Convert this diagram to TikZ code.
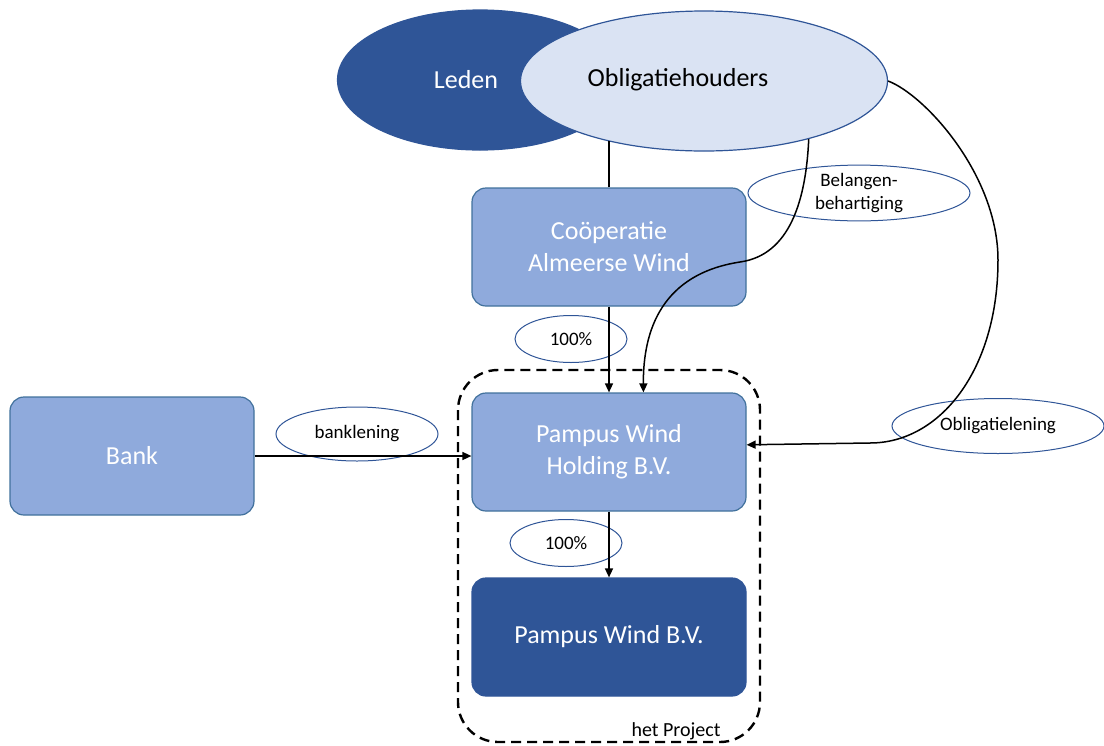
\documentclass[tikz,border=0pt]{standalone}
\usepackage{fontspec}
\setmainfont{Carlito}
\usetikzlibrary{arrows.meta, shapes.geometric}
\definecolor{donker}{HTML}{2F5597}
\definecolor{midden}{HTML}{8FAADC}
\definecolor{licht}{HTML}{DAE3F3}
\definecolor{rand}{HTML}{41719C}

\begin{document}
\begin{tikzpicture}[
  x=0.5pt, y=-0.5pt, font=\fontsize{13}{16}\selectfont,
  >={Triangle[length=4.5pt, width=4pt]},
  box/.style={draw=rand, line width=0.6pt, rounded corners=7pt, fill=midden,
              text=white, align=center, minimum width=137pt, minimum height=59pt},
  groep/.style={ellipse, draw=donker, line width=0.6pt, inner sep=0pt,
                minimum height=70pt},
  lbl/.style={ellipse, draw=donker, line width=0.5pt, inner sep=0pt,
              align=center, font=\fontsize{9.5}{11.5}\selectfont},
  ar/.style={->, line width=0.75pt, black},
  project/.style={draw, line width=1.2pt, dash pattern=on 5pt off 3pt,
                  rounded corners=20pt},
]
\useasboundingbox (0,0) rectangle (1104,745);

% leden en obligatiehouders
\node[groep, fill=donker, minimum width=142.5pt] (leden) at (480,80) {};
\node[groep, fill=licht, minimum width=183.5pt] (oblig) at (704,81) {};
\node[text=white] (ledentxt) at (466,80) {Leden};
\node (obligtxt) at (678,80) {Obligatiehouders};

% entiteiten
\node[box] (coop) at (609,247) {Coöperatie\\Almeerse Wind};
\node[box] (holding) at (609,452) {Pampus Wind\\Holding B.V.};
\node[box, fill=donker, draw=donker] (bv) at (609,637) {Pampus Wind B.V.};
\node[box, minimum width=122pt] (bank) at (132,456) {Bank};

% het project
\draw[project] (458,370) rectangle (760,742);
\node[font=\fontsize{10}{12}\selectfont] (projtxt) at (676,731) {het Project};

% labels
\node[lbl, minimum width=56pt, minimum height=23.5pt] (pct1) at (571,339) {100\%};
\node[lbl, minimum width=56pt, minimum height=23.5pt] (pct2) at (566,543) {100\%};
\node[lbl, minimum width=81pt, minimum height=27pt] (bankl) at (357,434) {banklening};
\node[lbl, minimum width=111pt, minimum height=27.5pt] (belang) at (859,193) {Belangen-\\behartiging};
\node[lbl, minimum width=106pt, minimum height=27.5pt] (obll) at (998,426) {Obligatielening};

% verbindingen
\draw[line width=0.75pt] (coop.north) -- (coop.north |- oblig.-148);
\draw[ar] (coop) -- (holding);
\draw[ar] (holding) -- (bv);
\draw[ar] (bank.east) -- (holding.west |- bank.east);
\draw[ar] (oblig.-29) .. controls (806,200) and (790,255) .. (740,262)
  .. controls (662,274) and (643,330) .. (holding.60);
\draw[ar] (oblig.east) .. controls (925,95) and (998,175) .. (998,260)
  .. controls (998,370) and (940,443) .. (870,443) -- (holding.3);
\end{tikzpicture}
\end{document}
